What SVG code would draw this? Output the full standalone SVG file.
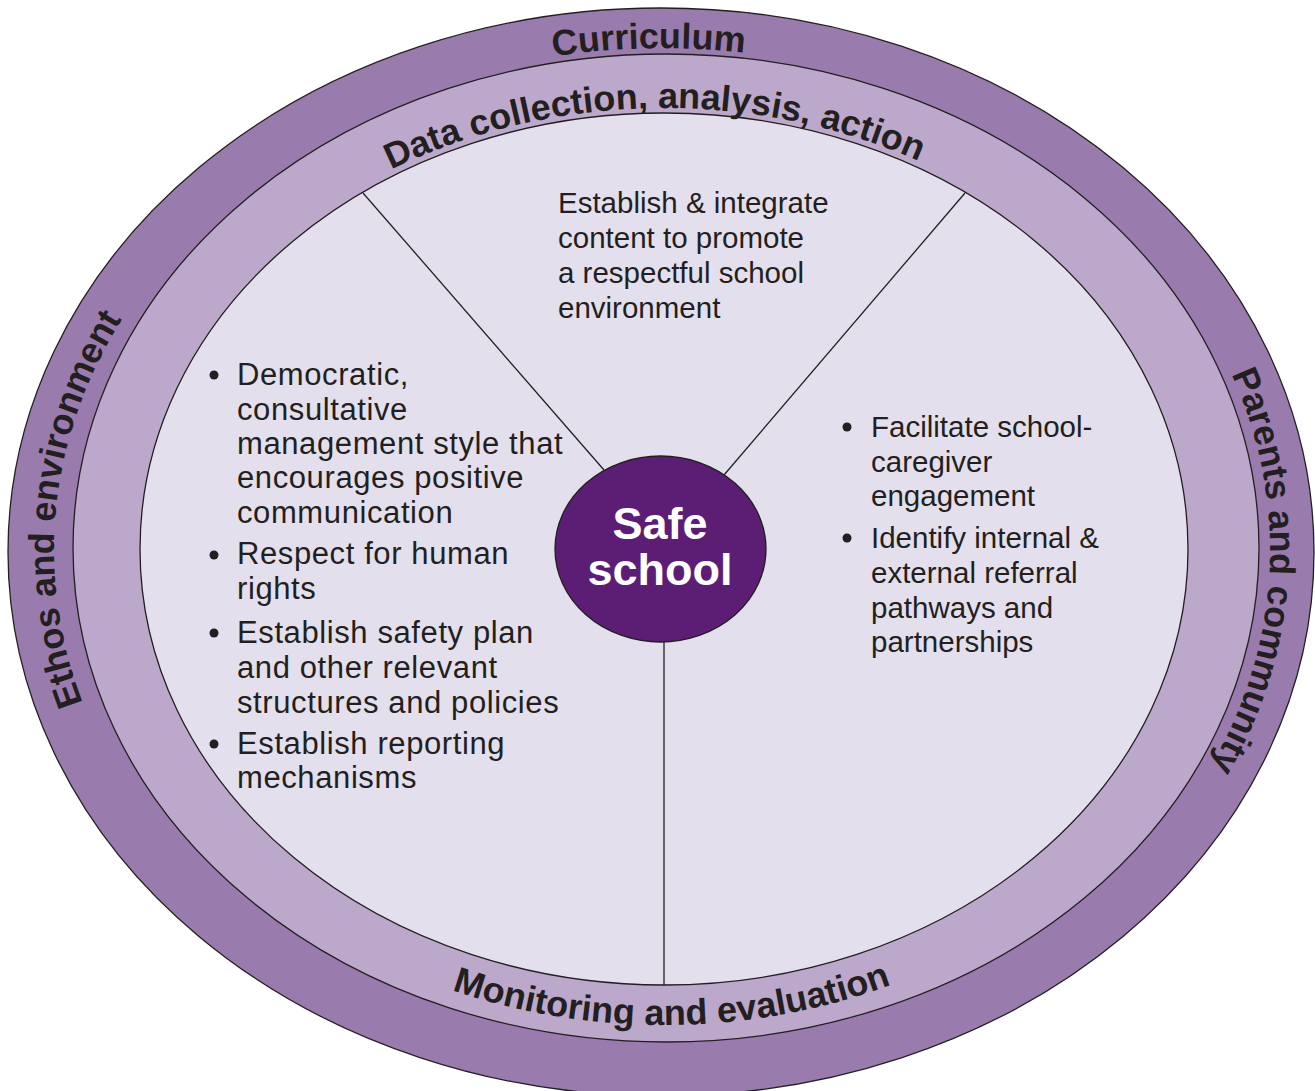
<svg xmlns="http://www.w3.org/2000/svg" xmlns:xlink="http://www.w3.org/1999/xlink" width="1315" height="1091" viewBox="0 0 1315 1091">
<style>
.ring{stroke:#231f20;stroke-width:1.3}
.band{font-family:"Liberation Sans",Arial,sans-serif;font-weight:bold;font-size:36px;fill:#231f20}
.body{font-family:"Liberation Sans",Arial,sans-serif;font-size:29.5px;fill:#231f20}
.wide{font-size:31px;letter-spacing:0.6px}
.center{font-family:"Liberation Sans",Arial,sans-serif;font-weight:bold;font-size:45px;fill:#ffffff}
.div{stroke:#231f20;stroke-width:1.3;fill:none}
.bullet{fill:#231f20}
</style>
<defs>
<path id="pTop" d="M54,550 A608,502 0 0 1 1270,550"/>
<path id="pLeft" d="M662,1052 A608,502 0 0 1 662,48"/>
<path id="pRight" d="M662,48 A608,502 0 0 1 662,1052"/>
<path id="pData" d="M129,549 A535,441 0 0 1 1199,549"/>
<path id="pMon" d="M99,549 A565,476 0 0 0 1229,549"/>
</defs>
<rect width="1315" height="1091" fill="#ffffff"/>
<g id="outer-ring">
<ellipse class="ring" cx="661" cy="552" rx="653" ry="544" fill="#9a7bad"/>
</g>
<g id="middle-ring">
<ellipse class="ring" cx="666" cy="548" rx="593" ry="494" fill="#bca8cb"/>
</g>
<g id="inner-area">
<ellipse class="ring" cx="664" cy="549" rx="524" ry="436" fill="#e4dfec"/>
</g>
<g id="connectors">
<line class="div" x1="363" y1="193" x2="604" y2="470"/>
<line class="div" x1="965" y1="193" x2="724" y2="475"/>
<line class="div" x1="664" y1="642" x2="664" y2="985"/>
</g>
<g id="label-curriculum">
<text class="band"><textPath xlink:href="#pTop" href="#pTop" startOffset="49.25%" text-anchor="middle">Curriculum</textPath></text>
</g>
<g id="label-ethos">
<text class="band"><textPath xlink:href="#pLeft" href="#pLeft" startOffset="52.5%" text-anchor="middle">Ethos and environment</textPath></text>
</g>
<g id="label-parents">
<text class="band"><textPath xlink:href="#pRight" href="#pRight" startOffset="51.3%" text-anchor="middle">Parents and community</textPath></text>
</g>
<g id="label-data">
<text class="band"><textPath xlink:href="#pData" href="#pData" startOffset="49.35%" text-anchor="middle">Data collection, analysis, action</textPath></text>
</g>
<g id="label-monitoring">
<text class="band"><textPath xlink:href="#pMon" href="#pMon" startOffset="50.5%" text-anchor="middle">Monitoring and evaluation</textPath></text>
</g>
<g id="curriculum-text">
<text class="body">
<tspan x="558" y="213">Establish &amp; integrate</tspan>
<tspan x="558" y="248">content to promote</tspan>
<tspan x="558" y="283">a respectful school</tspan>
<tspan x="558" y="318">environment</tspan>
</text>
</g>
<g id="ethos-text">
<circle class="bullet" cx="214" cy="375" r="4.5"/>
<circle class="bullet" cx="214" cy="555" r="4.5"/>
<circle class="bullet" cx="214" cy="633" r="4.5"/>
<circle class="bullet" cx="214" cy="744" r="4.5"/>
<text class="body wide">
<tspan x="237" y="385">Democratic,</tspan>
<tspan x="237" y="420">consultative</tspan>
<tspan x="237" y="454">management style that</tspan>
<tspan x="237" y="488">encourages positive</tspan>
<tspan x="237" y="523">communication</tspan>
<tspan x="237" y="564">Respect for human</tspan>
<tspan x="237" y="599">rights</tspan>
<tspan x="237" y="643">Establish safety plan</tspan>
<tspan x="237" y="678">and other relevant</tspan>
<tspan x="237" y="713">structures and policies</tspan>
<tspan x="237" y="754">Establish reporting</tspan>
<tspan x="237" y="788">mechanisms</tspan>
</text>
</g>
<g id="parents-text">
<circle class="bullet" cx="847" cy="427" r="4.5"/>
<circle class="bullet" cx="847" cy="538" r="4.5"/>
<text class="body">
<tspan x="871" y="437">Facilitate school-</tspan>
<tspan x="871" y="472">caregiver</tspan>
<tspan x="871" y="506">engagement</tspan>
<tspan x="871" y="548">Identify internal &amp;</tspan>
<tspan x="871" y="583">external referral</tspan>
<tspan x="871" y="618">pathways and</tspan>
<tspan x="871" y="652">partnerships</tspan>
</text>
</g>
<g id="safe-school">
<ellipse cx="660.5" cy="549" rx="105.5" ry="93" fill="#5c1e74" stroke="#231f20" stroke-width="1.3"/>
<text class="center" text-anchor="middle"><tspan x="660" y="539">Safe</tspan><tspan x="660" y="585">school</tspan></text>
</g>
</svg>
